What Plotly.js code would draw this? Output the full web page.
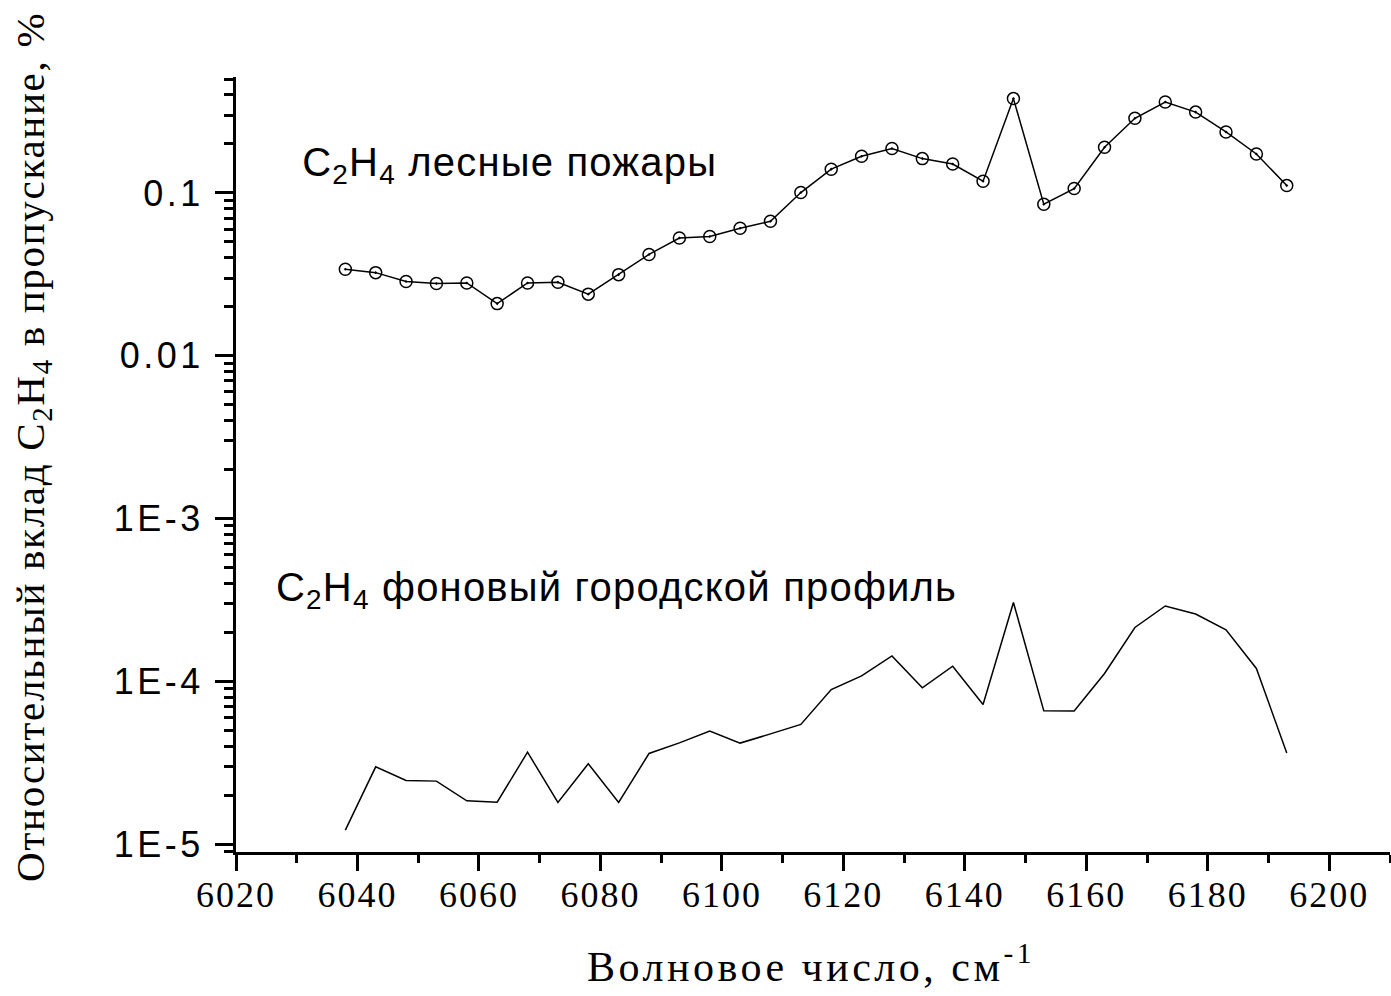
<!DOCTYPE html>
<html>
<head>
<meta charset="utf-8">
<script src="https://cdn.plot.ly/plotly-3.0.1.min.js"></script>
<style>
html,body{margin:0;padding:0;background:#fff;}
#chart{width:1391px;height:996px;}
.ytick text{letter-spacing:3.5px;}
.xtick text{letter-spacing:2px;}
</style>
</head>
<body>
<div id="chart"></div>
<script>
const wavenumbers = [6038,6043,6048,6053,6058,6063,6068,6073,6078,6083,6088,6093,6098,6103,6108,6113,
  6118,6123,6128,6133,6138,6143,6148,6153,6158,6163,6168,6173,6178,6183,6188,6193];
const fireValues = [0.0340,0.0324,0.0286,0.0278,0.0280,0.0209,0.0280,0.0283,0.0239,0.0315,0.0419,0.0529,0.0540,0.0607,0.0670,0.1006,
  0.140,0.168,0.1875,0.1626,0.1507,0.118,0.380,0.0853,0.1064,0.191,0.2876,0.362,0.314,0.237,0.1736,0.111];
const urbanValues = [1.217e-5,2.98e-5,2.459e-5,2.435e-5,1.842e-5,1.808e-5,3.667e-5,1.80e-5,3.11e-5,1.80e-5,3.60e-5,4.18e-5,4.94e-5,4.17e-5,4.75e-5,5.43e-5,
  8.90e-5,1.080e-4,1.432e-4,9.11e-5,1.238e-4,7.20e-5,3.05e-4,6.58e-5,6.56e-5,1.117e-4,2.14e-4,2.90e-4,2.59e-4,2.07e-4,1.198e-4,3.63e-5];
const yTickVals = [1e-5,1e-4,1e-3,0.01,0.1];
const yTickText = ['1E-5','1E-4','1E-3','0.01','0.1'];
const fireLabel = 'C<sub>2</sub>H<sub>4</sub> лесные пожары';
const urbanLabel = 'C<sub>2</sub>H<sub>4</sub> фоновый городской профиль';
const xTitle = 'Волновое число, см<sup>-1</sup>';
const yTitle = 'Относительный вклад C<sub>2</sub>H<sub>4</sub> в пропускание, %';

const serif = 'Liberation Serif, Times New Roman, serif';
const sans = 'Liberation Sans, Arial, sans-serif';

const traces = [
  {x: wavenumbers, y: fireValues, type:'scatter', mode:'lines+markers',
   line:{color:'#000', width:1.5},
   marker:{symbol:'circle-open-dot', size:12, color:'#000', line:{width:1.5, color:'#000'}}},
  {x: wavenumbers, y: urbanValues, type:'scatter', mode:'lines',
   line:{color:'#000', width:1.5}}
];

const layout = {
  width:1391, height:996,
  margin:{l:236, r:1, t:77, b:144, pad:0},
  paper_bgcolor:'#fff', plot_bgcolor:'#fff',
  showlegend:false,
  font:{family:sans, color:'#000'},
  xaxis:{
    range:[6020,6210], tick0:6020, dtick:20, showgrid:false, zeroline:false,
    showline:true, linewidth:3, linecolor:'#000',
    ticks:'outside', ticklen:16, tickwidth:3, tickcolor:'#000', ticklabelstandoff:-7,
    minor:{dtick:10, ticks:'outside', ticklen:8, tickwidth:3, tickcolor:'#000', showgrid:false},
    tickfont:{family:serif, size:36, color:'#000'}
  },
  yaxis:{
    type:'log', range:[-5.049,-0.2875], showgrid:false, zeroline:false,
    showline:true, linewidth:3, linecolor:'#000',
    tickmode:'array', tickvals:yTickVals, ticktext:yTickText,
    ticks:'outside', ticklen:18, tickwidth:3, tickcolor:'#000', ticklabelstandoff:4,
    minor:{dtick:'D1', ticks:'outside', ticklen:9, tickwidth:3, tickcolor:'#000', showgrid:false},
    tickfont:{family:sans, size:36, color:'#000'}
  },
  annotations:[
    {text:fireLabel, xref:'paper', yref:'paper', x:0.2374, y:0.886, xanchor:'center', yanchor:'middle', showarrow:false,
     font:{family:sans, size:40, color:'#000'}},
    {text:urbanLabel, xref:'paper', yref:'paper', x:0.3297, y:0.338, xanchor:'center', yanchor:'middle', showarrow:false,
     font:{family:sans, size:40, color:'#000'}},
    {text:xTitle, xref:'paper', yref:'paper', x:0.4983, y:-0.1445, xanchor:'center', yanchor:'middle', showarrow:false,
     font:{family:serif, size:42, color:'#000'}},
    {text:yTitle, xref:'paper', yref:'paper', x:-0.176, y:0.5224, xanchor:'center', yanchor:'middle', showarrow:false,
     textangle:-90, font:{family:serif, size:41, color:'#000'}}
  ]
};
Plotly.newPlot('chart', traces, layout, {displayModeBar:false, staticPlot:true}).then(function(gd){
  const ann = gd.querySelectorAll('.annotation-text');
  const spacing = ['1.2px','1.2px','3.5px','1.7px'];
  ann.forEach(function(t, i){ t.style.letterSpacing = spacing[i] || '0px'; });
});
</script>
</body>
</html>
